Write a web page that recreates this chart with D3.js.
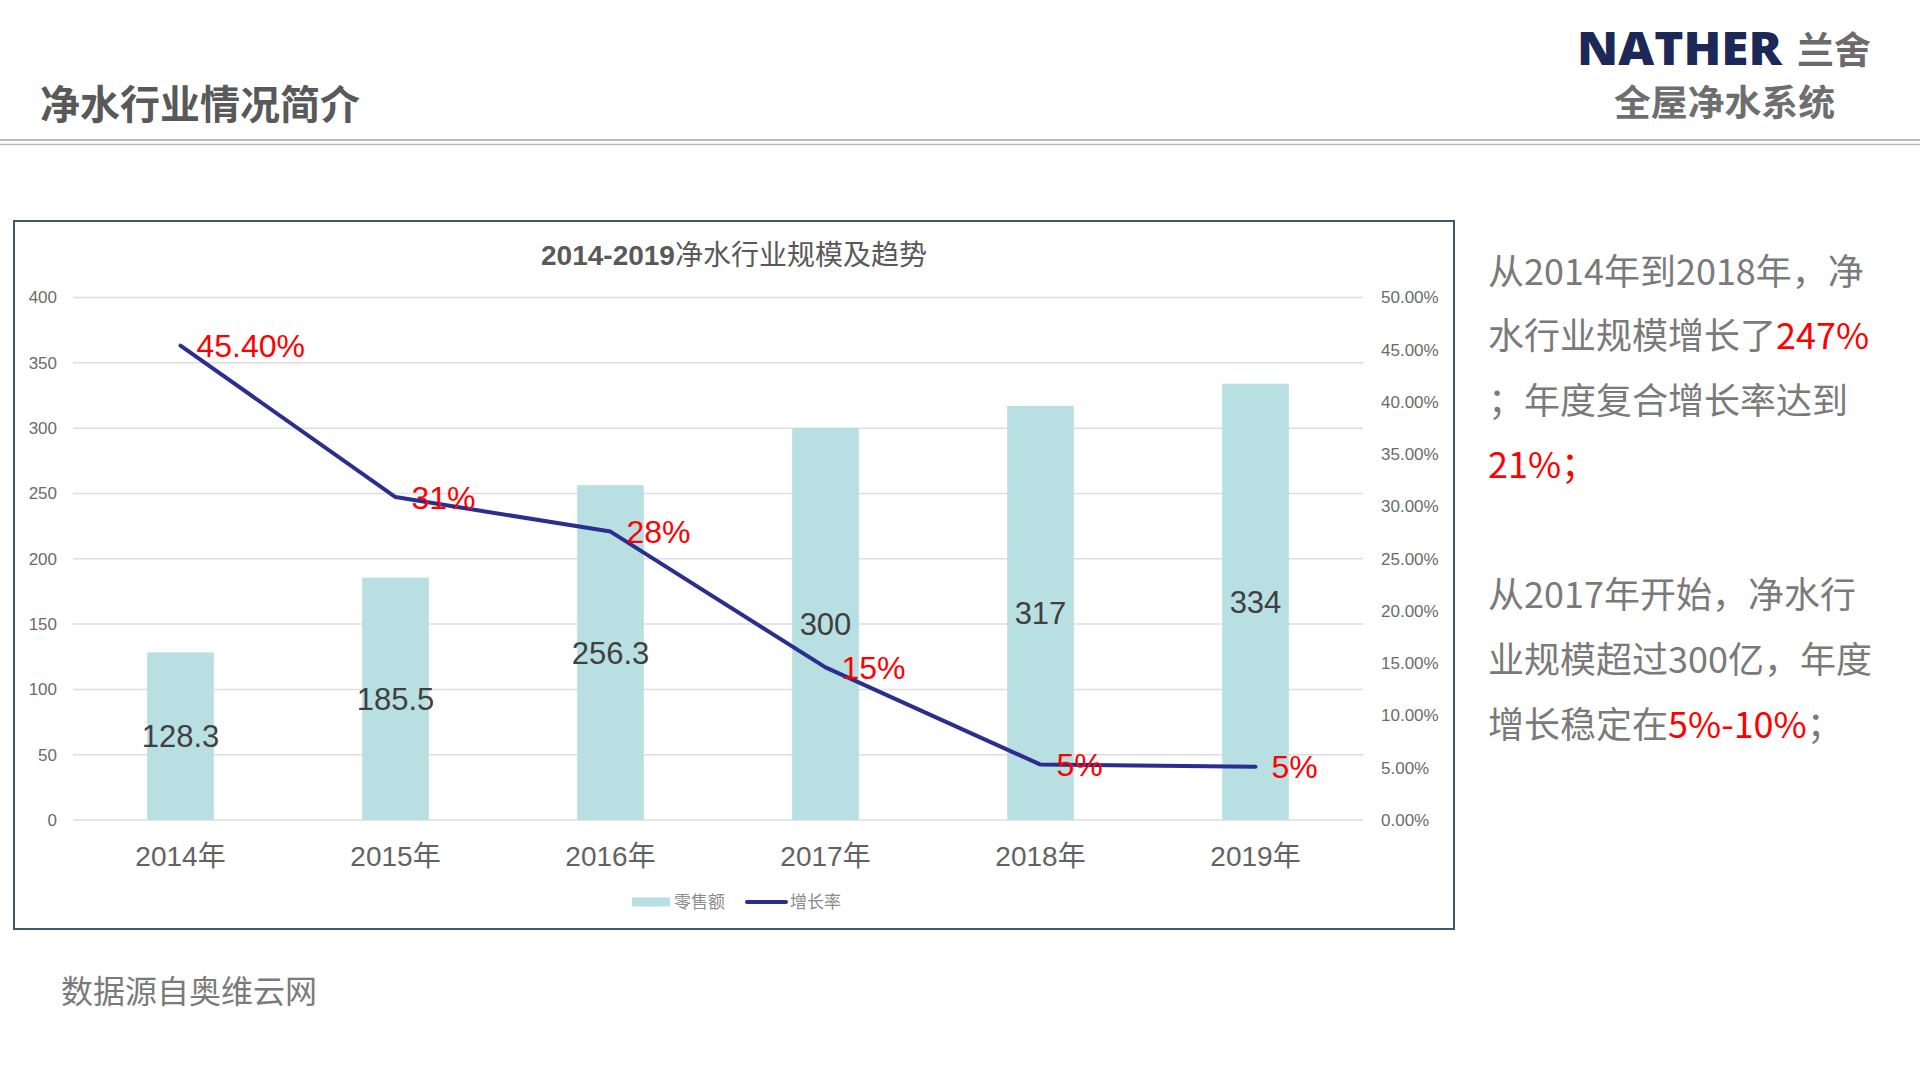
<!DOCTYPE html>
<html>
<head>
<meta charset="utf-8">
<script src="https://cdn.jsdelivr.net/npm/d3@7"></script>
<style>
  html, body { margin: 0; padding: 0; background: #ffffff; }
  svg { display: block; }
</style>
</head>
<body>
<svg id="chart" width="1920" height="1080"></svg>
<script>
// ---- data ----
const categories = ["2014年", "2015年", "2016年", "2017年", "2018年", "2019年"];
const retailValues = [128.3, 185.5, 256.3, 300, 317, 334];
const growthRates = [45.4, 30.9, 27.6, 14.6, 5.3, 5.1];
const growthLabels = ["45.40%", "31%", "28%", "15%", "5%", "5%"];
const leftTicks = [0, 50, 100, 150, 200, 250, 300, 350, 400];
const rightTicks = [0, 5, 10, 15, 20, 25, 30, 35, 40, 45, 50];
const seriesNames = ["零售额", "增长率"];

const latin = "'Liberation Sans', Arial, 'Noto Sans CJK SC', sans-serif";
const cjk = "'Noto Sans CJK SC', 'Liberation Sans', sans-serif";

const svg = d3.select("#chart");
svg.append("rect").attr("width", 1920).attr("height", 1080).attr("fill", "#ffffff");

// ---- page header ----
svg.append("text").attr("x", 40).attr("y", 119)
  .style("font-family", cjk).style("font-weight", 700).style("font-size", "40px")
  .attr("fill", "#595959").text("净水行业情况简介");

svg.append("line").attr("x1", 0).attr("x2", 1920).attr("y1", 140).attr("y2", 140)
  .attr("stroke", "#a6a6a6").attr("stroke-width", 1.6);
svg.append("line").attr("x1", 0).attr("x2", 1920).attr("y1", 144.5).attr("y2", 144.5)
  .attr("stroke", "#bdbdbd").attr("stroke-width", 1.6);

// logo
svg.append("text").attr("x", 1577).attr("y", 65)
  .attr("textLength", 205).attr("lengthAdjust", "spacingAndGlyphs")
  .style("font-family", "'Open Sans', 'Liberation Sans', sans-serif").style("font-weight", 800)
  .style("font-size", "46px").attr("fill", "#1b2858").text("NATHER");
svg.append("text").attr("x", 1797).attr("y", 64)
  .style("font-family", cjk).style("font-weight", 700).style("font-size", "37px")
  .attr("fill", "#6b6b6b").text("兰舍");
svg.append("text").attr("x", 1614).attr("y", 116)
  .attr("textLength", 221).attr("lengthAdjust", "spacingAndGlyphs")
  .style("font-family", cjk).style("font-weight", 700).style("font-size", "36px")
  .attr("fill", "#6e6e6e").text("全屋净水系统");

// ---- chart frame ----
svg.append("rect").attr("x", 14).attr("y", 221).attr("width", 1440).attr("height", 708)
  .attr("fill", "none").attr("stroke", "#3e5a66").attr("stroke-width", 2);

// chart title
const title = svg.append("text").attr("x", 734).attr("y", 265).attr("text-anchor", "middle")
  .attr("fill", "#595959").style("font-size", "28px");
title.append("tspan").style("font-family", latin).style("font-weight", 700).text("2014-2019");
title.append("tspan").style("font-family", cjk).style("font-weight", 400).text("净水行业规模及趋势");

// ---- scales ----
const plotLeft = 73, plotRight = 1363, plotTop = 297.5, plotBottom = 820;
const x = d3.scaleBand().domain(categories).range([plotLeft, plotRight])
  .paddingInner(0.69).paddingOuter(0.345);
const yL = d3.scaleLinear().domain([0, 400]).range([plotBottom, plotTop]);
const yR = d3.scaleLinear().domain([0, 50]).range([plotBottom, plotTop]);

// gridlines
svg.append("g").selectAll("line").data(leftTicks).join("line")
  .attr("x1", plotLeft).attr("x2", plotRight)
  .attr("y1", d => yL(d)).attr("y2", d => yL(d))
  .attr("stroke", "#dedede").attr("stroke-width", 1.5);

// left axis
const axL = svg.append("g").attr("transform", `translate(${plotLeft - 16},0)`)
  .call(d3.axisLeft(yL).tickValues(leftTicks).tickSize(0).tickPadding(0));
axL.select(".domain").remove();
axL.selectAll("text").style("font-family", latin).style("font-size", "17px").attr("fill", "#6b6b6b");

// right axis
const axR = svg.append("g").attr("transform", `translate(${plotRight + 18},0)`)
  .call(d3.axisRight(yR).tickValues(rightTicks).tickSize(0).tickPadding(0)
    .tickFormat(d => d3.format(".2f")(d) + "%"));
axR.select(".domain").remove();
axR.selectAll("text").style("font-family", latin).style("font-size", "17px").attr("fill", "#6b6b6b");

// bottom axis
const axB = svg.append("g").attr("transform", `translate(0,${plotBottom})`)
  .call(d3.axisBottom(x).tickSize(0).tickPadding(0));
axB.select(".domain").remove();
axB.selectAll("text").attr("dy", null).attr("y", 46)
  .style("font-family", latin).style("font-size", "28px").attr("fill", "#626262");

// bars
svg.append("g").selectAll("rect").data(retailValues).join("rect")
  .attr("x", (d, i) => x(categories[i]))
  .attr("width", x.bandwidth())
  .attr("y", d => yL(d))
  .attr("height", d => yL(0) - yL(d))
  .attr("fill", "#b8dfe2");

// bar labels (centered in bar)
svg.append("g").selectAll("text").data(retailValues).join("text")
  .attr("x", (d, i) => x(categories[i]) + x.bandwidth() / 2)
  .attr("y", d => (yL(d) + yL(0)) / 2)
  .attr("text-anchor", "middle").attr("dy", "0.36em")
  .style("font-family", latin).style("font-size", "31px").attr("fill", "#404040")
  .text(d => d);

// line
const cx = (i) => x(categories[i]) + x.bandwidth() / 2;
const line = d3.line().x((d, i) => cx(i)).y(d => yR(d));
svg.append("path").datum(growthRates).attr("d", line)
  .attr("fill", "none").attr("stroke", "#2b2e8f").attr("stroke-width", 4)
  .attr("stroke-linejoin", "round").attr("stroke-linecap", "round");

// rate labels
svg.append("g").selectAll("text").data(growthRates).join("text")
  .attr("x", (d, i) => cx(i) + 16)
  .attr("y", d => yR(d))
  .attr("dy", "0.36em")
  .style("font-family", latin).style("font-size", "32px").attr("fill", "#ff0000")
  .text((d, i) => growthLabels[i]);

// legend
const lg = svg.append("g").attr("transform", "translate(0,902)");
lg.append("rect").attr("x", 632).attr("y", -4.5).attr("width", 38).attr("height", 9).attr("fill", "#b8dfe2");
lg.append("text").attr("x", 674).attr("y", 0).attr("dy", "0.36em")
  .style("font-family", cjk).style("font-size", "17px").attr("fill", "#8c8c8c").text(seriesNames[0]);
lg.append("line").attr("x1", 747).attr("x2", 786).attr("y1", 0).attr("y2", 0)
  .attr("stroke", "#2b2e8f").attr("stroke-width", 4).attr("stroke-linecap", "round");
lg.append("text").attr("x", 790).attr("y", 0).attr("dy", "0.36em")
  .style("font-family", cjk).style("font-size", "17px").attr("fill", "#8c8c8c").text(seriesNames[1]);

// ---- side text ----
const gray = "#7a7a7a", red = "#ff0000";
const sideLines = [
  { y: 285, parts: [["从2014年到2018年，净", gray]] },
  { y: 349, parts: [["水行业规模增长了", gray], ["247%", red]] },
  { y: 414, parts: [["；年度复合增长率达到", gray]] },
  { y: 478, parts: [["21%；", red]] },
  { y: 608, parts: [["从2017年开始，净水行", gray]] },
  { y: 673, parts: [["业规模超过300亿，年度", gray]] },
  { y: 738, parts: [["增长稳定在", gray], ["5%-10%", red], ["；", gray]] }
];
const side = svg.append("g");
sideLines.forEach(l => {
  const t = side.append("text").attr("x", 1488).attr("y", l.y)
    .style("font-family", cjk).style("font-size", "36px");
  l.parts.forEach(p => t.append("tspan").attr("fill", p[1]).text(p[0]));
});

// footer
svg.append("text").attr("x", 61).attr("y", 1003)
  .style("font-family", cjk).style("font-size", "32px").attr("fill", "#7a7a7a")
  .text("数据源自奥维云网");
</script>
</body>
</html>
